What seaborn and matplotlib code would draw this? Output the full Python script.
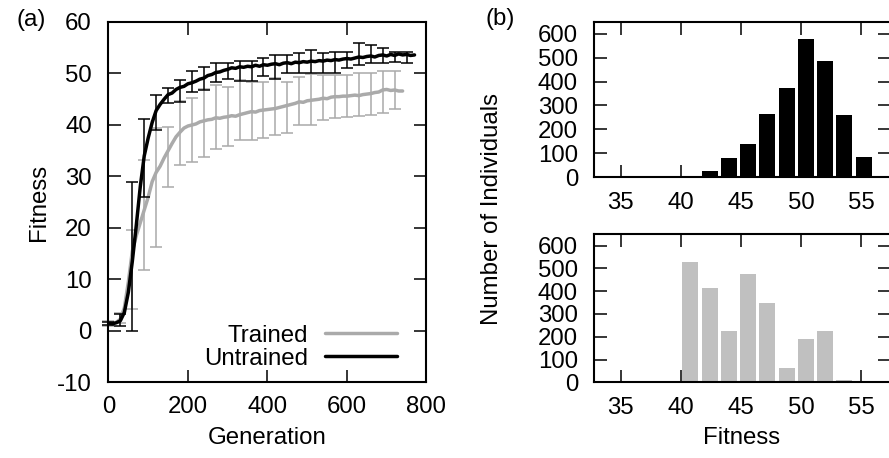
"""Fitness over generations (a) and final fitness histograms (b)."""

import matplotlib

matplotlib.use("Agg")
import matplotlib.pyplot as plt
import numpy as np
import seaborn as sns

# ---- panel (a): mean fitness per generation ----
GEN_UNTRAINED = np.arange(0, 780, 10)
FIT_UNTRAINED = [
    1.5, 1.4, 1.6, 2.0, 3.6, 7.5, 13.5, 20.5, 28.0, 34.0,
    37.5, 40.5, 42.8, 44.0, 45.0, 45.9, 46.2, 46.9, 47.3, 47.5,
    48.0, 48.2, 48.5, 48.9, 49.1, 49.6, 49.8, 50.2, 50.3, 50.6,
    50.8, 51.1, 51.0, 51.3, 51.2, 51.4, 51.3, 51.6, 51.4, 51.7,
    51.6, 51.8, 51.9, 51.7, 52.0, 52.1, 51.9, 52.2, 52.1, 52.3,
    52.2, 52.4, 52.3, 52.5, 52.4, 52.6, 52.5, 52.7, 52.6, 52.8,
    52.9, 52.8, 53.0, 53.2, 53.1, 53.3, 53.4, 53.2, 53.5, 53.6,
    53.4, 53.7, 53.5, 53.8, 53.6, 53.7, 53.5, 53.6,
]
GEN_TRAINED = np.arange(0, 750, 10)
FIT_TRAINED = [
    1.6, 1.5, 1.7, 2.3, 4.5, 9.5, 15.5, 18.5, 21.0, 23.5,
    26.0, 29.0, 30.8, 32.0, 33.6, 35.0, 36.4, 37.7, 38.6, 39.4,
    39.8, 40.0, 40.2, 40.6, 40.8, 41.0, 41.1, 41.4, 41.3, 41.5,
    41.6, 41.8, 41.7, 42.0, 42.2, 42.4, 42.6, 42.5, 42.8, 42.9,
    43.0, 43.1, 43.2, 43.4, 43.6, 43.8, 44.0, 44.2, 44.5, 44.4,
    44.7, 44.8, 44.9, 45.0, 45.2, 45.1, 45.4, 45.5, 45.5, 45.6,
    45.6, 45.7, 45.8, 45.7, 45.9, 46.0, 46.1, 46.3, 46.4, 46.8,
    46.9, 46.7, 46.8, 46.6, 46.6,
]

# error bars every 30 generations (lower / upper ends)
ERR_GEN_UNTRAINED = np.arange(0, 780, 30)
UNTRAINED_LO = [
    1.2, 1.0, -0.1, 26.1, 39.0, 44.2, 44.5, 46.5, 46.8, 48.4,
    49.0, 48.5, 48.5, 49.5, 49.0, 50.0, 50.0, 50.0, 50.0, 50.0,
    51.0, 51.6, 52.0, 52.0, 52.3, 52.0,
]
UNTRAINED_HI = [
    1.8, 3.3, 28.9, 41.2, 45.8, 47.1, 48.7, 50.4, 51.3, 52.0,
    52.0, 52.5, 52.5, 53.0, 53.5, 53.5, 54.0, 54.6, 53.9, 54.2,
    54.2, 55.9, 55.5, 54.9, 54.2, 54.2,
]
ERR_GEN_TRAINED = np.arange(0, 750, 30)
TRAINED_LO = [
    1.0, 1.5, 4.3, 11.8, 16.4, 28.0, 32.2, 32.9, 33.8, 35.3,
    35.9, 37.1, 37.1, 37.4, 38.1, 38.4, 40.0, 40.0, 41.0, 41.3,
    41.6, 41.7, 41.9, 42.3, 43.2,
]
TRAINED_HI = [
    2.0, 3.5, 19.6, 33.2, 39.4, 39.7, 44.7, 45.2, 46.9, 47.7,
    47.4, 48.7, 48.4, 48.4, 49.1, 48.4, 49.4, 49.9, 49.7, 49.7,
    49.7, 50.0, 50.0, 50.4, 50.4,
]

# ---- panel (b): histograms of final fitness ----
FITNESS_BINS = [39.2, 40.8, 42.4, 44.0, 45.6, 47.2, 48.8, 50.4, 52.0, 53.6, 55.2]
COUNT_UNTRAINED = [5, 6, 25, 78, 137, 264, 375, 580, 485, 259, 84]
COUNT_TRAINED = [2, 530, 416, 225, 474, 348, 62, 192, 227, 11, 0]

BLACK = "#000000"
GREY_LINE = "#aaaaaa"
GREY_BAR = "#c0c0c0"
FS = 17.3


def style_axis(ax, ypad=12, xpad=10):
    ax.tick_params(direction="in", length=9, width=1.1, top=True, right=True,
                   labelsize=FS, colors="black")
    ax.tick_params(axis="y", pad=ypad)
    ax.tick_params(axis="x", pad=xpad)
    for s in ax.spines.values():
        s.set_visible(True)
        s.set_linewidth(1.5)
        s.set_color("black")


def errbars(ax, gens, lo, hi, color):
    lo = np.asarray(lo)
    hi = np.asarray(hi)
    eb = ax.errorbar(gens, (lo + hi) / 2, yerr=(hi - lo) / 2, fmt="none",
                     ecolor=color, elinewidth=1.1, capsize=4.3, capthick=1.1)
    for art in eb.get_children():
        art.set_clip_on(False)


def main():
    sns.set_style("ticks")
    plt.rcParams["font.family"] = ["Liberation Sans", "DejaVu Sans"]
    plt.rcParams["axes.unicode_minus"] = False
    for key in ("text.color", "axes.labelcolor", "xtick.color", "ytick.color"):
        plt.rcParams[key] = "black"

    fig = plt.figure(figsize=(8.89, 4.58), dpi=100)
    ax_a = fig.add_axes([0.1220, 0.1649, 0.3577, 0.7871])
    ax_b1 = fig.add_axes([0.6682, 0.6135, 0.3330, 0.3384])
    ax_b2 = fig.add_axes([0.6682, 0.1653, 0.3330, 0.3231])

    # (a)
    errbars(ax_a, ERR_GEN_TRAINED, TRAINED_LO, TRAINED_HI, GREY_LINE)
    sns.lineplot(x=GEN_TRAINED, y=FIT_TRAINED, color=GREY_LINE, lw=2.5,
                 label="Trained", ax=ax_a)
    errbars(ax_a, ERR_GEN_UNTRAINED, UNTRAINED_LO, UNTRAINED_HI, BLACK)
    sns.lineplot(x=GEN_UNTRAINED, y=FIT_UNTRAINED, color=BLACK, lw=2.5,
                 label="Untrained", ax=ax_a)
    ax_a.set_xlim(0, 800)
    ax_a.set_ylim(-10, 60)
    ax_a.set_xticks(range(0, 801, 200))
    ax_a.set_yticks(range(-10, 61, 10))
    style_axis(ax_a)
    ax_a.set_xlabel("Generation", fontsize=FS)
    ax_a.set_ylabel("Fitness", fontsize=FS)
    ax_a.xaxis.set_label_coords(0.5, -0.123)
    ax_a.yaxis.set_label_coords(-0.184, 0.5)
    ax_a.legend(loc="lower right", bbox_to_anchor=(0.907, 0.035),
                markerfirst=False, frameon=False, handlelength=3.0,
                handletextpad=0.7, labelspacing=0.05, borderpad=0,
                borderaxespad=0, fontsize=FS)

    # (b)
    for ax, counts, color in ((ax_b1, COUNT_UNTRAINED, BLACK),
                              (ax_b2, COUNT_TRAINED, GREY_BAR)):
        sns.barplot(x=FITNESS_BINS, y=counts, native_scale=True, color=color,
                    width=0.83, linewidth=0, saturation=1, errorbar=None, ax=ax)
        ax.set_xlim(32.8, 57.4)
        ax.set_ylim(0, 650)
        ax.set_xticks(range(35, 56, 5))
        ax.set_yticks(range(0, 601, 100))
        style_axis(ax, ypad=11.5, xpad=10.5)
        ax.set_xlabel("")
        ax.set_ylabel("")
    ax_b2.set_xlabel("Fitness", fontsize=FS)
    ax_b2.xaxis.set_label_coords(0.5, -0.302)
    fig.text(492 / 889, 1 - 209 / 458, "Number of Individuals", fontsize=FS,
             rotation=90, ha="center", va="center")

    fig.text(31 / 889, 1 - 20 / 458, "(a)", fontsize=FS, ha="center", va="center")
    fig.text(500 / 889, 1 - 19 / 458, "(b)", fontsize=FS, ha="center", va="center")

    fig.savefig("out.png", dpi=100)
    plt.close(fig)


if __name__ == "__main__":
    main()
